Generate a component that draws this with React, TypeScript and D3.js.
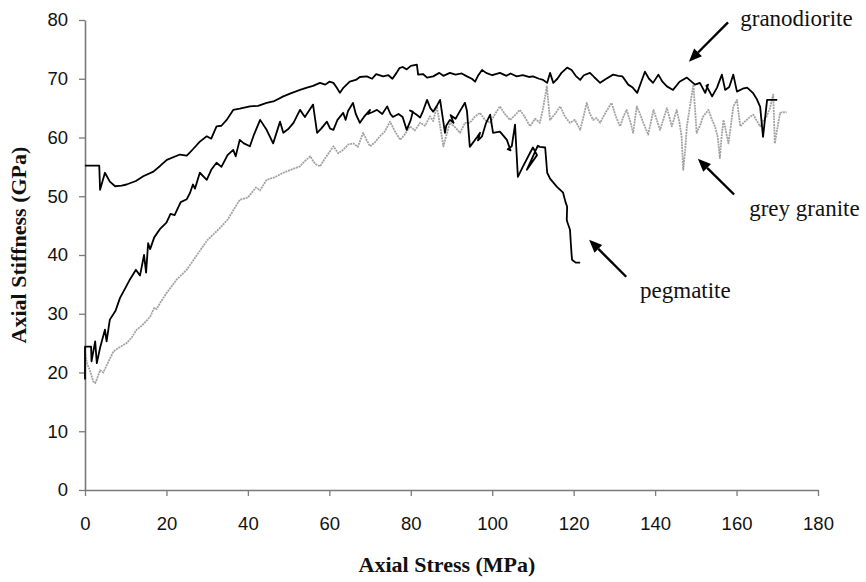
import { useEffect, useRef } from 'react';
import * as d3 from 'd3';

// [axial stress MPa, axial stiffness GPa]
const granodiorite: [number, number][] = [
  [0, 55.2], [3.5, 55.2], [3.7, 51.1], [4.9, 54], [6.1, 52.5], [7.4, 51.7], [9, 51.8], [10.2, 52],
  [12.5, 52.6], [14.3, 53.4], [16.8, 54.2], [18.5, 55.2], [20.1, 56.2], [23.3, 57.1], [25, 56.9],
  [26.5, 58], [28.2, 59.3], [29.9, 60.2], [31, 59.8], [32.3, 61.9], [33.5, 62], [34.8, 63],
  [36.4, 64.7], [38, 64.9], [40.5, 65.3], [42.5, 65.4], [44.6, 65.9], [46.5, 66.2], [48.7, 67],
  [50.5, 67.5], [52.8, 68.1], [54.5, 68.5], [56, 68.8], [57.7, 69.3], [59, 69], [60, 69.5],
  [61, 69.3], [61.8, 68.5], [62.6, 67.6], [63.5, 68.5], [65, 69.5], [66.5, 69.8], [67.5, 70.3],
  [69.2, 70.4], [70.5, 70], [71.5, 70.8], [73.2, 70.4], [74.5, 70.6], [75.5, 70], [76.5, 71],
  [77.2, 71.8], [78, 72], [79, 71.6], [80, 72.2], [81.5, 72.4], [81.8, 70.7], [83, 70.8],
  [84, 70.2], [85.5, 70.4], [87, 71], [88, 70.5], [89.6, 71], [91, 70.7], [92.5, 70.9],
  [93.8, 70.4], [95, 70], [95.8, 69.5], [96.5, 70.5], [97.5, 71.5], [98.5, 71], [100, 70.6],
  [101.9, 71], [103.5, 70.5], [104.5, 70.9], [106, 70.4], [107.5, 70.6], [109, 70.3],
  [110, 70.4], [111.5, 70], [112.5, 69.8], [113.5, 69.3], [114.2, 71], [115, 69.3], [116, 70],
  [117, 71], [118.4, 71.9], [119.5, 71.5], [120.5, 70.5], [121.6, 69.8], [122.5, 70.6],
  [124, 71], [125, 70.3], [126.5, 69.3], [128, 70], [129.7, 70.7], [131, 70.5], [132, 70.4],
  [133.4, 69], [134.5, 68.5], [135.6, 67.6], [136.6, 69.5], [137.5, 71.2], [138.5, 70],
  [139.5, 69.3], [140.8, 70.7], [141.8, 69.5], [142.9, 68.7], [144.4, 68.1], [146, 69.5],
  [147.8, 70.2], [148.8, 69.6], [149.8, 69], [151, 69.3], [152.3, 67.6], [153, 69],
  [152.6, 68.8], [154, 67], [155.2, 68.5], [156.4, 70.7], [157.2, 68.1], [158.2, 68.6],
  [159.2, 70.7], [160.1, 67.8], [161.5, 68.3], [162.6, 68.5], [164, 67.6], [165, 66.5],
  [165.8, 65.2], [166.5, 60.1], [167.5, 66.4], [170, 66.4],
];

const pegmatite: [number, number][] = [
  [0, 18.8], [0, 24.4], [1.5, 24.4], [1.6, 21.9], [2.5, 25.3], [2.9, 21.6], [3.7, 24.2],
  [4.9, 27.3], [5.3, 25.3], [6.1, 29], [7.5, 30.5], [8.6, 32.7], [10, 34.5], [11, 35.8],
  [12.5, 37.5], [13.5, 36.5], [14.5, 40], [15, 37], [15.5, 42], [16, 41], [17, 43],
  [18.5, 44.5], [20, 45.5], [21, 47], [22, 46.8], [23.5, 49], [25, 49.5], [25.8, 50.6],
  [26.5, 52], [27, 51.3], [28.2, 54], [29.9, 52.8], [31, 54.5], [32.3, 55.7], [33.5, 55],
  [35, 57], [36.4, 57.9], [37, 56.8], [38, 59.6], [39, 59], [40.5, 58.5], [41.5, 60.5],
  [43, 63], [44.6, 61.3], [46.2, 59], [47.9, 62.7], [48.7, 60.8], [50, 61.5], [51.2, 62.5],
  [52.8, 64.7], [54, 63.5], [56, 65.6], [57, 60.8], [58, 61.5], [59.4, 62.7], [60.2, 61.5],
  [61, 61.3], [62, 63], [63.4, 64.2], [64, 63], [64.6, 64.5], [65.8, 65.9], [66.5, 64],
  [67.5, 62.5], [68.5, 63.5], [70, 64.7], [69.5, 64], [70.5, 64.3], [71.7, 64.7], [73, 64],
  [74.2, 65.3], [75, 64], [75.6, 63.5], [77, 64], [78, 63.5], [79, 61.3], [80, 63],
  [80.5, 64.4], [79.8, 64.6], [81.2, 64], [82.3, 63.4], [83, 64.5], [84, 66.4], [84.8, 65],
  [85.5, 64.4], [86.5, 65.5], [87.2, 66.4], [88.4, 60.8], [88.7, 62], [89.6, 63], [90.5, 62.5],
  [89.8, 63.8], [91, 63.2], [92, 64.4], [93.3, 65.9], [93.8, 64.5], [94.5, 58.4], [96.3, 60.1],
  [97, 60.8], [96.5, 59.5], [97.5, 60.2], [98.5, 62.5], [99.5, 63.9], [100.2, 60.8],
  [101.9, 61], [103.6, 59.6], [104.5, 57.8], [103.8, 58], [104.8, 58.5], [105.6, 62.2],
  [106.3, 53.3], [107.5, 55], [109.3, 57.4], [110, 58.3], [111, 57], [108.5, 54.5],
  [111.2, 58.6], [111.7, 58.4], [113, 58.3], [113.5, 54], [114.2, 53], [115.9, 51.6],
  [116.5, 51.2], [117.4, 50.6], [118, 49], [118.4, 48.2], [118.3, 46], [118.5, 45.5],
  [119.1, 44.3], [119.3, 42], [119.5, 40], [119.6, 39.2], [120.5, 38.7], [121.6, 38.7],
];

const greyGranite: [number, number][] = [
  [0, 23.6], [0.5, 21.5], [1.2, 20.4], [2, 18.5], [2.5, 18.2], [3, 19], [3.7, 20.4], [4.5, 20],
  [5.5, 21.5], [7, 23.6], [8.5, 24.3], [10.2, 25], [11.5, 26], [12.7, 27.3], [14, 28],
  [16, 29.5], [17, 31], [17.6, 30.8], [18.4, 31.8], [20, 33.5], [22.5, 35.8], [25, 37.5],
  [28, 40.5], [30, 42.5], [33, 44.5], [35, 46], [38, 49.4], [40, 49.8], [42, 51.5], [43, 51],
  [44.6, 52.8], [46.5, 53.2], [48.7, 54], [50.5, 54.5], [52.8, 55.1], [54, 56], [55.3, 56.8],
  [56.5, 55.5], [57.7, 55.1], [59, 56.5], [60, 57.5], [61, 58.5], [62.2, 57.3], [63.4, 57.9],
  [64.6, 58.8], [65.9, 59], [67, 58.4], [68.3, 60.8], [69.2, 59.5], [70, 58.5], [71.2, 59.2],
  [72.4, 60.2], [73.6, 61], [74.9, 62.7], [76, 61.2], [77.4, 59.6], [78.5, 60.5], [79.8, 61.9],
  [81, 61.2], [82.3, 62.5], [83.5, 62], [84.7, 63.6], [85.5, 62.8], [86.4, 65.3], [87.2, 62],
  [88, 58.5], [88.8, 60.5], [89.6, 62.5], [90.8, 61.8], [92.1, 60.8], [93.3, 62.5],
  [94.5, 62.5], [95.7, 63.5], [97, 64.2], [98.2, 63], [99.5, 62.5], [100.7, 64], [101.9, 65.3],
  [103.1, 64], [104.4, 63], [105.6, 63.8], [106.8, 64.7], [108, 63.5], [109.3, 61.9],
  [110.5, 63.2], [111.7, 62.5], [112.5, 65], [113.4, 68.7], [114.2, 63], [115.4, 64],
  [116.7, 65.3], [117.9, 63.5], [119.1, 62.5], [120.3, 63], [121.6, 61.3], [122.4, 63.5],
  [123.2, 65.9], [124, 64], [124.8, 63], [125.6, 63.3], [126.5, 62.5], [127.8, 64.2],
  [129.3, 65.9], [130.4, 63.5], [131.4, 61.9], [132.2, 63.5], [133, 64.7], [134, 62.5],
  [134.6, 60.8], [135.5, 65.3], [136.3, 64], [137.1, 62.5], [138.3, 60.5], [139.6, 64.7],
  [140.4, 63], [141.2, 61.3], [142, 63], [142.9, 65], [143.5, 63.5], [144.1, 61.9],
  [145.3, 64.7], [146, 62.5], [146.5, 60.2], [146.9, 54.5], [147.4, 58], [147.8, 61.9],
  [148.6, 65.5], [149.4, 69], [150.2, 60.8], [151, 62], [151.8, 63.6], [153.1, 64.7],
  [154, 63], [154.7, 61.9], [155.4, 60], [155.9, 56.5], [156.3, 60], [156.8, 63], [157.4, 61],
  [158, 59], [158.6, 62], [159.2, 65.3], [160.1, 66.4], [160.9, 61.9], [161.7, 62.5],
  [162.5, 63], [163.3, 63.5], [164.1, 63.9], [165, 62.8], [165.8, 61.9], [166.6, 63],
  [167.4, 63.6], [168.2, 65], [169, 67.3], [169.4, 59], [170, 61.5], [170.7, 64.2],
  [171.5, 64.3], [172.3, 64.3],
];

const xTicks = [0, 20, 40, 60, 80, 100, 120, 140, 160, 180];
const yTicks = [0, 10, 20, 30, 40, 50, 60, 70, 80];

// label text, label anchor [x, y], arrow tail [x, y], arrow head [x, y] (data units)
const labels = ['granodiorite', 'grey granite', 'pegmatite'];
const labelPos: [number, number][] = [[160.9, 78.9], [163.1, 46.7], [136.3, 32.7]];
const arrowTail: [number, number][] = [[157.9, 79.6], [159.4, 50.3], [132.9, 36.3]];
const arrowHead: [number, number][] = [[148.3, 72.9], [150.5, 56.4], [123.8, 42.6]];

export default function App() {
  const svgRef = useRef<SVGSVGElement | null>(null);

  useEffect(() => {
    document.body.style.margin = '0';
    if (!svgRef.current) return;
    const svg = d3.select(svgRef.current);
    svg.selectAll('*').remove();

    const margin = { top: 20, right: 48, bottom: 92, left: 85 };
    const w = 866 - margin.left - margin.right;
    const h = 582 - margin.top - margin.bottom;
    const g = svg.append('g').attr('transform', `translate(${margin.left},${margin.top})`);

    const x = d3.scaleLinear().domain([0, 180]).range([0, w]);
    const y = d3.scaleLinear().domain([0, 80]).range([h, 0]);

    // Axes
    const xAxis = g.append('g')
      .attr('transform', `translate(0,${h})`)
      .call(d3.axisBottom(x).tickValues(xTicks).tickSize(6).tickSizeOuter(0).tickPadding(21));
    const yAxis = g.append('g')
      .call(d3.axisLeft(y).tickValues(yTicks).tickSize(6).tickSizeOuter(0).tickPadding(11));
    [xAxis, yAxis].forEach((a) => {
      a.select('.domain').attr('stroke', '#7a7a7a').attr('stroke-width', 1.6);
      a.selectAll('.tick line').attr('stroke', '#7a7a7a').attr('stroke-width', 1.3);
      a.selectAll('.tick text')
        .attr('fill', '#111')
        .attr('font-family', '"Liberation Sans", Arial, sans-serif')
        .attr('font-size', '18.5px');
    });

    // Axis titles
    g.append('text')
      .attr('x', 362).attr('y', 552)
      .attr('text-anchor', 'middle')
      .attr('font-family', '"Liberation Serif", "Times New Roman", serif')
      .attr('font-weight', 'bold').attr('font-size', '22px').attr('fill', '#111')
      .text('Axial Stress (MPa)');
    g.append('text')
      .attr('transform', 'rotate(-90)')
      .attr('x', -225).attr('y', -59)
      .attr('text-anchor', 'middle')
      .attr('font-family', '"Liberation Serif", "Times New Roman", serif')
      .attr('font-weight', 'bold').attr('font-size', '22px').attr('fill', '#111')
      .text('Axial Stiffness (GPa)');

    // Curves
    const line = d3.line<[number, number]>().x((d) => x(d[0])).y((d) => y(d[1]));
    g.append('path').datum(greyGranite)
      .attr('d', line).attr('fill', 'none')
      .attr('stroke', '#a2a2a2').attr('stroke-width', 1.8).attr('stroke-dasharray', '2,0.8')
      .attr('stroke-linejoin', 'round');
    g.append('path').datum(pegmatite)
      .attr('d', line).attr('fill', 'none')
      .attr('stroke', '#000').attr('stroke-width', 1.8).attr('stroke-linejoin', 'round');
    g.append('path').datum(granodiorite)
      .attr('d', line).attr('fill', 'none')
      .attr('stroke', '#000').attr('stroke-width', 1.8).attr('stroke-linejoin', 'round');

    // Annotations with arrows
    labels.forEach((label, i) => {
      const [tx, ty] = [x(arrowTail[i][0]), y(arrowTail[i][1])];
      const [hx, hy] = [x(arrowHead[i][0]), y(arrowHead[i][1])];
      const ang = Math.atan2(hy - ty, hx - tx);
      const len = 13;
      const half = 5.5;
      const bx = hx - len * Math.cos(ang);
      const by = hy - len * Math.sin(ang);
      g.append('line')
        .attr('x1', tx).attr('y1', ty).attr('x2', bx).attr('y2', by)
        .attr('stroke', '#000').attr('stroke-width', 2.4);
      g.append('path')
        .attr('d', `M${hx},${hy}L${bx + half * Math.sin(ang)},${by - half * Math.cos(ang)}L${bx - half * Math.sin(ang)},${by + half * Math.cos(ang)}Z`)
        .attr('fill', '#000');
      g.append('text')
        .attr('x', x(labelPos[i][0])).attr('y', y(labelPos[i][1]))
        .attr('font-family', '"Liberation Serif", "Times New Roman", serif')
        .attr('font-size', '23px').attr('fill', '#111')
        .text(label);
    });
  }, []);

  return <svg ref={svgRef} width={866} height={582} style={{ display: 'block' }} />;
}
